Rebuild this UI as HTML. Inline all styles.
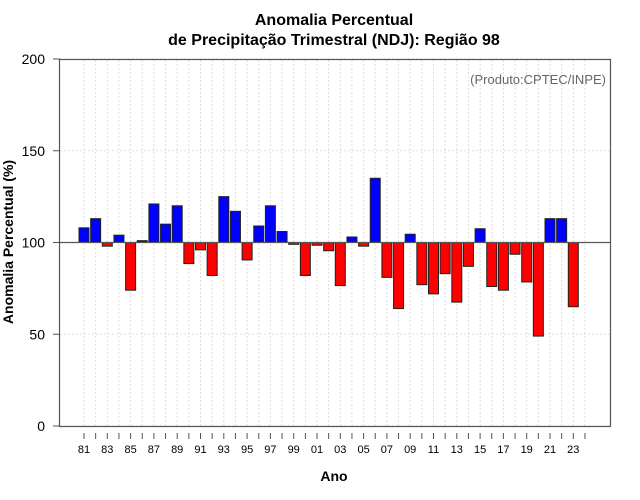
<!DOCTYPE html>
<html><head><meta charset="utf-8"><style>
html,body{margin:0;padding:0;background:#fff;}
svg{display:block;font-family:"Liberation Sans",Arial,sans-serif;}
</style></head><body>
<svg id="chart" width="640" height="500" viewBox="0 0 640 500">
<text x="334" y="25" text-anchor="middle" font-size="16" font-weight="bold">Anomalia Percentual</text>
<text x="334" y="45" text-anchor="middle" font-size="16" font-weight="bold">de Precipitação Trimestral (NDJ): Região 98</text>
<g id="grid"></g>
<g id="bars"></g>
<line x1="60" x2="610" y1="242.5" y2="242.5" stroke="#555" stroke-width="1.2"/>
<rect x="59.5" y="59.5" width="551" height="367" fill="none" stroke="#555" stroke-width="1.2"/>
<g id="yaxis"></g>
<g id="xaxis"></g>
<text x="606" y="84" text-anchor="end" font-size="13" fill="#666">(Produto:CPTEC/INPE)</text>
<text x="334" y="481" text-anchor="middle" font-size="14" font-weight="bold">Ano</text>
<text transform="translate(13,242) rotate(-90)" text-anchor="middle" font-size="14" font-weight="bold">Anomalia Percentual (%)</text>
</svg>
<script>
const years = [1981,1982,1983,1984,1985,1986,1987,1988,1989,1990,1991,1992,1993,1994,1995,1996,1997,1998,1999,2000,2001,2002,2003,2004,2005,2006,2007,2008,2009,2010,2011,2012,2013,2014,2015,2016,2017,2018,2019,2020,2021,2022,2023];
const values = [108,113,98,104,74,101,121,110,120,88.5,96,82,125,117,90.5,109,120,106,99,82,98.5,95.5,76.5,103,98,135,81,64,104.5,77,72,83,67.5,87,107.5,76,74,93.6,78.5,49,113,113,65];
const yTicks = [0,50,100,150,200];
const tickYears = [1981,1982,1983,1984,1985,1986,1987,1988,1989,1990,1991,1992,1993,1994,1995,1996,1997,1998,1999,2000,2001,2002,2003,2004,2005,2006,2007,2008,2009,2010,2011,2012,2013,2014,2015,2016,2017,2018,2019,2020,2021,2022,2023,2024];
const baseline = 100;

const NS = "http://www.w3.org/2000/svg";
const yScale = v => 426 - (v / 200) * 367;
const xScale = yr => 84 + (yr - 1981) * 11.65;
function mk(tag, attrs, parent) {
  const e = document.createElementNS(NS, tag);
  for (const k in attrs) e.setAttribute(k, attrs[k]);
  parent.appendChild(e);
  return e;
}
const grid = document.getElementById('grid');
const bars = document.getElementById('bars');
const yaxis = document.getElementById('yaxis');
const xaxis = document.getElementById('xaxis');

yTicks.forEach(t => {
  const y = yScale(t);
  const g = mk('line', {x1:60, x2:610, y1:y, y2:y, stroke:'#ddd', 'stroke-dasharray':'2,2'}, grid);
  
  
  const tk = mk('line', {x1:53, x2:60, y1:y, y2:y, stroke:'#555'}, yaxis);
  
  
  const tx = mk('text', {x:45, y:y+5, 'text-anchor':'end', 'font-size':14}, yaxis);
  tx.textContent = t;
  
  
});

tickYears.forEach((yr, i) => {
  const x = xScale(yr);
  const g = mk('line', {x1:x, x2:x, y1:60, y2:426, stroke:'#ddd', 'stroke-dasharray':'2,2'}, grid);
  
  
  const tk = mk('line', {x1:x, x2:x, y1:433, y2:439, stroke:'#555'}, xaxis);
  
  
  if (i % 2 === 0 && yr <= 2023) {
    const tx = mk('text', {x:x, y:453, 'text-anchor':'middle', 'font-size':11}, xaxis);
    tx.textContent = String(yr % 100).padStart(2, '0');
    
    
  }
});

values.forEach((v, i) => {
  const x = xScale(years[i]);
  const y0 = yScale(baseline), y1 = yScale(v);
  const r = mk('rect', {x:x-5, y:Math.min(y0,y1), width:10, height:Math.max(Math.abs(y1-y0),1),
    fill: v >= baseline ? '#0000ff' : '#ff0000', stroke:'#222', 'stroke-width':1}, bars);
  
  
});
</script>
</body></html>
